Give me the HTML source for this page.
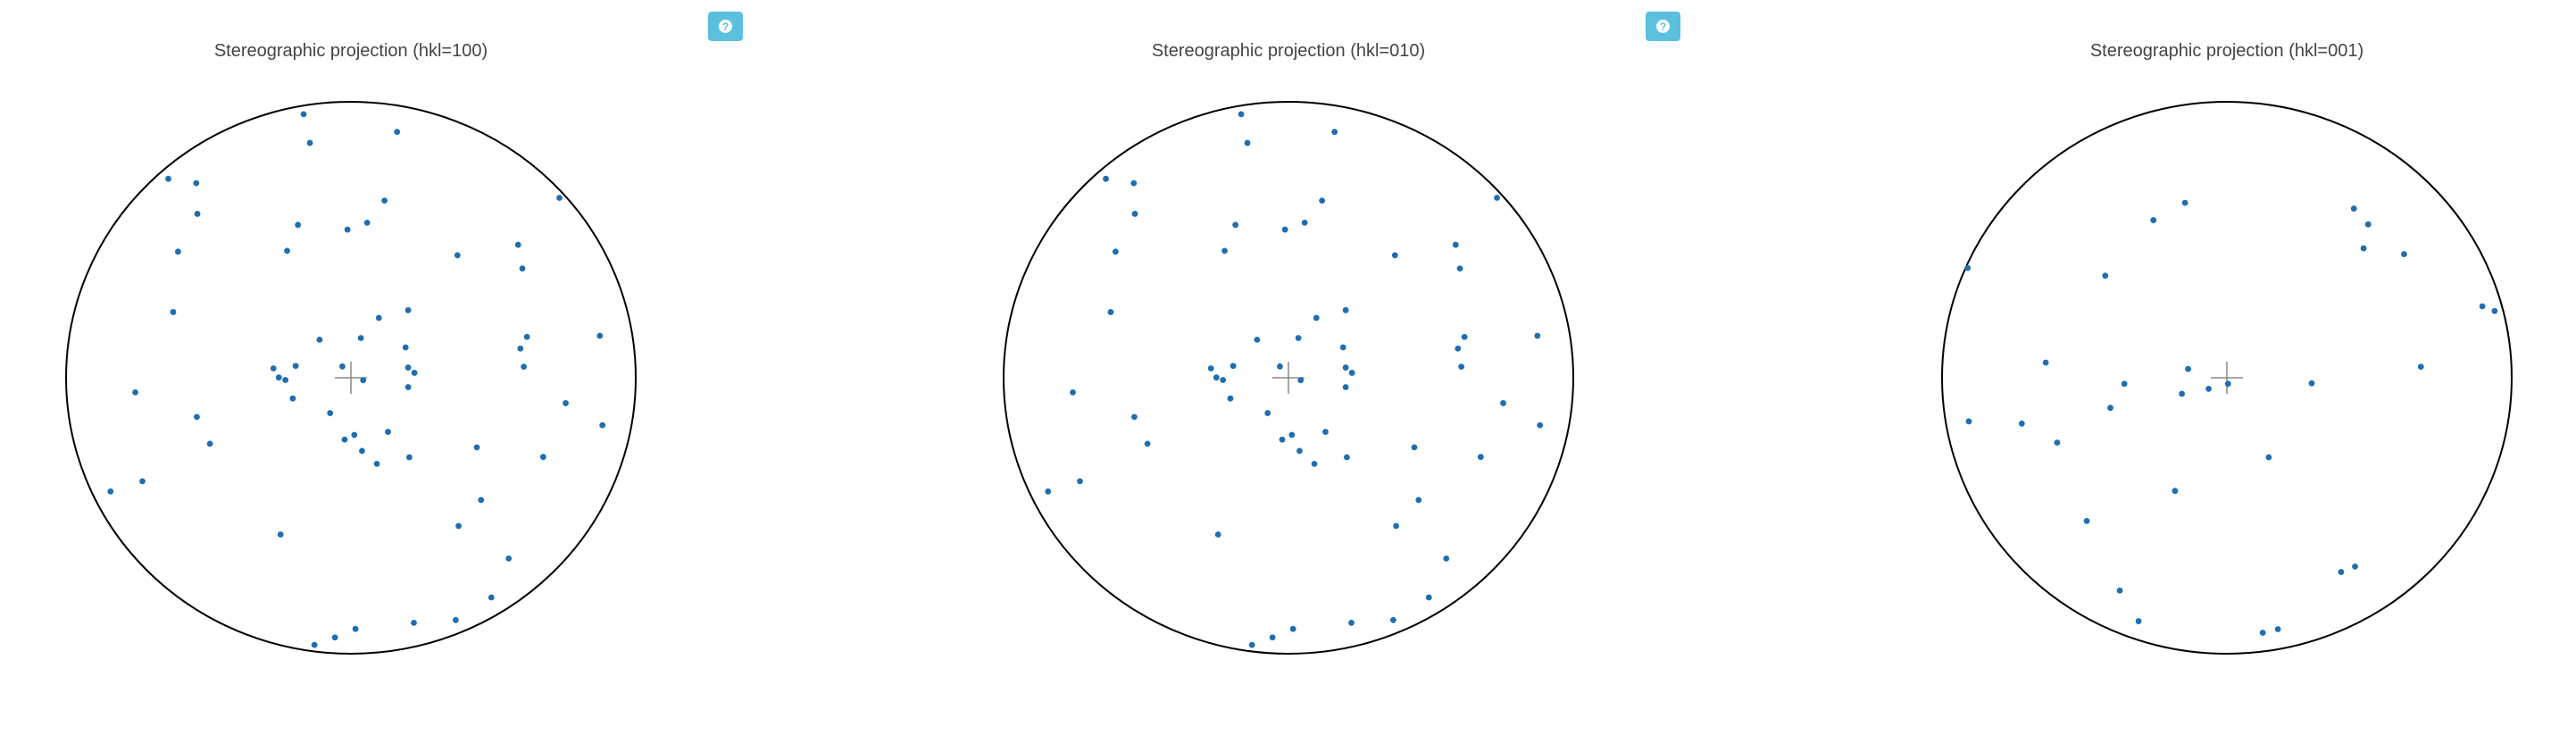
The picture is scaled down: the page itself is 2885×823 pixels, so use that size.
<!DOCTYPE html>
<html><head><meta charset="utf-8"><style>
html,body{margin:0;padding:0;background:#fff;width:2885px;height:823px;overflow:hidden}
.btn{position:absolute;width:39px;height:33px;background:#5bc0de;border-radius:4px;display:flex;align-items:center;justify-content:center}
.btn span{width:15px;height:15px;border-radius:50%;background:#fff;color:#5bc0de;font:bold 12px "Liberation Sans",sans-serif;display:flex;align-items:center;justify-content:center}
</style></head><body>
<svg id="chart" width="2885" height="823" style="position:absolute;left:0;top:0"></svg>
<div class="btn" style="left:793px;top:13px"><span>?</span></div>
<div class="btn" style="left:1843px;top:13px"><span>?</span></div>
<script>
const titles = ["Stereographic projection (hkl=100)","Stereographic projection (hkl=010)","Stereographic projection (hkl=001)"];
const poles100 = [[-0.166,0.955],[0.162,0.891],[-0.144,0.851],[-0.641,0.721],[-0.543,0.705],[0.732,0.652],[0.118,0.642],[-0.539,0.594],[-0.186,0.554],[0.057,0.562],[-0.012,0.537],[-0.224,0.460],[-0.607,0.457],[0.374,0.444],[0.587,0.482],[0.602,0.396],[-0.624,0.238],[0.201,0.245],[0.098,0.217],[-0.110,0.138],[0.035,0.144],[0.192,0.110],[0.618,0.148],[0.595,0.106],[0.874,0.152],[-0.272,0.034],[-0.194,0.043],[-0.030,0.041],[-0.253,0.001],[-0.230,-0.008],[0.043,-0.009],[0.201,0.037],[0.223,0.018],[0.201,-0.034],[0.607,0.040],[-0.757,-0.053],[-0.204,-0.075],[0.754,-0.092],[-0.073,-0.128],[-0.541,-0.142],[0.883,-0.172],[0.130,-0.196],[0.012,-0.207],[-0.022,-0.224],[-0.495,-0.239],[0.442,-0.252],[0.039,-0.265],[0.205,-0.288],[0.675,-0.287],[0.091,-0.312],[-0.732,-0.375],[-0.844,-0.412],[0.457,-0.443],[0.378,-0.537],[-0.247,-0.568],[0.554,-0.655],[0.493,-0.796],[0.368,-0.878],[0.221,-0.888],[0.016,-0.910],[-0.056,-0.941],[-0.128,-0.968]];
const poles010 = [[-0.166,0.955],[0.162,0.891],[-0.144,0.851],[-0.641,0.721],[-0.543,0.705],[0.732,0.652],[0.118,0.642],[-0.539,0.594],[-0.186,0.554],[0.057,0.562],[-0.012,0.537],[-0.224,0.460],[-0.607,0.457],[0.374,0.444],[0.587,0.482],[0.602,0.396],[-0.624,0.238],[0.201,0.245],[0.098,0.217],[-0.110,0.138],[0.035,0.144],[0.192,0.110],[0.618,0.148],[0.595,0.106],[0.874,0.152],[-0.272,0.034],[-0.194,0.043],[-0.030,0.041],[-0.253,0.001],[-0.230,-0.008],[0.043,-0.009],[0.201,0.037],[0.223,0.018],[0.201,-0.034],[0.607,0.040],[-0.757,-0.053],[-0.204,-0.075],[0.754,-0.092],[-0.073,-0.128],[-0.541,-0.142],[0.883,-0.172],[0.130,-0.196],[0.012,-0.207],[-0.022,-0.224],[-0.495,-0.239],[0.442,-0.252],[0.039,-0.265],[0.205,-0.288],[0.675,-0.287],[0.091,-0.312],[-0.732,-0.375],[-0.844,-0.412],[0.457,-0.443],[0.378,-0.537],[-0.247,-0.568],[0.554,-0.655],[0.493,-0.796],[0.368,-0.878],[0.221,-0.888],[0.016,-0.910],[-0.056,-0.941],[-0.128,-0.968]];
const poles001 = [[-0.147,0.634],[-0.258,0.571],[0.446,0.613],[0.496,0.556],[0.480,0.469],[0.622,0.448],[-0.910,0.398],[-0.427,0.370],[0.897,0.259],[0.940,0.242],[-0.636,0.055],[-0.136,0.032],[0.681,0.040],[-0.360,-0.022],[0.004,-0.022],[0.298,-0.020],[-0.064,-0.040],[-0.158,-0.058],[-0.409,-0.109],[-0.906,-0.158],[-0.720,-0.166],[-0.596,-0.235],[0.147,-0.288],[-0.182,-0.410],[-0.492,-0.519],[0.450,-0.684],[0.401,-0.704],[-0.376,-0.771],[-0.310,-0.882],[0.126,-0.924],[0.179,-0.911]];
const allPoles = [poles100, poles010, poles001];
const NS = "http://www.w3.org/2000/svg";
const svg = document.getElementById('chart');
function mk(tag, attrs, parent){const e=document.createElementNS(NS,tag);for(const k in attrs)e.setAttribute(k,attrs[k]);parent.appendChild(e);return e;}
const RX = 319, RY = 309, CY = 423;
for (let i = 0; i < 3; i++) {
  const cx = 393 + 1050 * i + (i===2?1:0);
  const xs = v => cx + v * RX;
  const ys = v => CY - v * RY;
  const g = mk('g', {}, svg);
  
  
  const t = mk('text', {x: cx, y: 63, 'text-anchor': 'middle', 'font-family': 'Liberation Sans, sans-serif', 'font-size': 20, fill: '#444'}, g);
  t.textContent = titles[i];
  
  
  const c = mk('ellipse', {cx: cx, cy: CY, rx: RX, ry: RY, fill: 'none', stroke: '#000', 'stroke-width': 2}, g);
  
  
  const cr = mk('path', {d: `M${cx-18},${CY}H${cx+18}M${cx},${CY-18}V${CY+18}`, stroke: '#888', 'stroke-width': 1.5, fill: 'none'}, g);
  
  
  allPoles[i].forEach(p => {
    const d = mk('circle', {cx: xs(p[0]), cy: ys(p[1]), r: 3.4, fill: '#1f6eaf'}, g);
    
    
  });
}
</script>
</body></html>
